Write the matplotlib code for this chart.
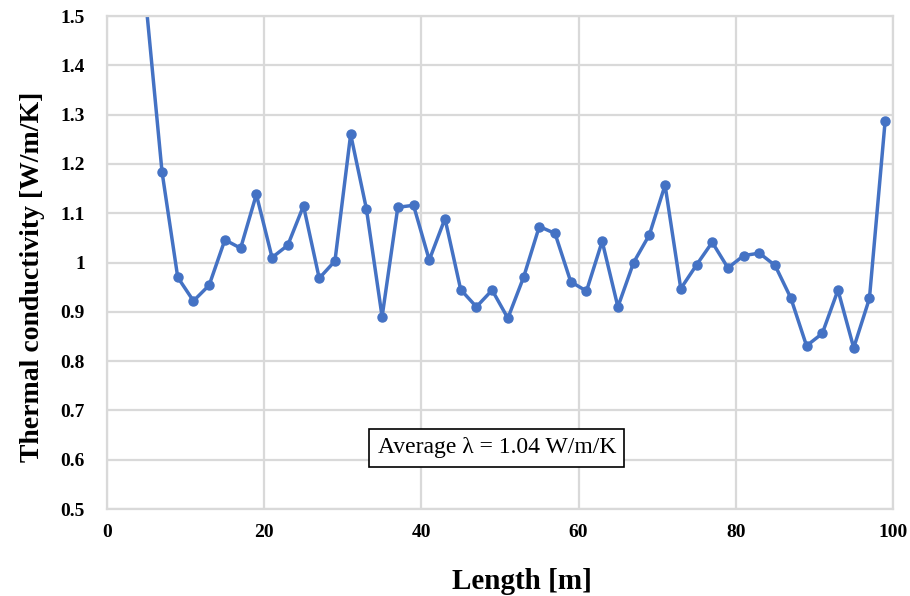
import matplotlib.pyplot as plt
import numpy as np

# measurement positions along the cable [m] and conductivity [W/m/K]
length = [3, 5, 7, 9, 11, 13, 15, 17, 19, 21, 23, 25, 27, 29, 31, 33, 35, 37, 39,
          41, 43, 45, 47, 49, 51, 53, 55, 57, 59, 61, 63, 65, 67, 69, 71, 73, 75,
          77, 79, 81, 83, 85, 87, 89, 91, 93, 95, 97, 99]
conductivity = [2.50, 1.52, 1.184, 0.970, 0.922, 0.954, 1.046, 1.029, 1.138, 1.010,
                1.035, 1.115, 0.968, 1.003, 1.260, 1.109, 0.890, 1.112, 1.116, 1.005,
                1.089, 0.945, 0.910, 0.944, 0.887, 0.970, 1.073, 1.059, 0.961, 0.942,
                1.043, 0.910, 1.000, 1.056, 1.157, 0.947, 0.995, 1.041, 0.989, 1.014,
                1.019, 0.994, 0.928, 0.831, 0.856, 0.944, 0.827, 0.927, 1.287]
avg_text = "Average \u03bb = 1.04 W/m/K"

plt.rcParams['font.family'] = ['Liberation Serif', 'DejaVu Serif']

fig = plt.figure(figsize=(9.1, 5.96), dpi=100)
ax = fig.add_axes([107/910, 1 - 509/596, (893-107)/910, (509-16)/596])

ax.plot(length, conductivity, color='#4472C4', linewidth=2.5,
        marker='o', markersize=6.5)

ax.set_xlim(0, 100)
ax.set_ylim(0.5, 1.5)
ax.set_xticks(np.arange(0, 101, 20))
ax.set_yticks(np.arange(0.5, 1.51, 0.1))
ax.set_yticklabels(['0.5', '0.6', '0.7', '0.8', '0.9', '1', '1.1', '1.2', '1.3', '1.4', '1.5'])
ax.grid(True, color='#d9d9d9', linewidth=1.6)
ax.set_axisbelow(True)
for s in ax.spines.values():
    s.set_color('#d9d9d9')
    s.set_linewidth(1.6)
ax.tick_params(length=0, labelsize=14)
ax.tick_params(axis='y', pad=16)
ax.tick_params(axis='x', pad=11)
for lbl in ax.get_xticklabels() + ax.get_yticklabels():
    lbl.set_fontweight('bold')

ax.set_xlabel("Length [m]", fontsize=21, fontweight='bold')
ax.xaxis.set_label_coords(0.528, -0.12)
ax.set_ylabel("Thermal conductivity [W/m/K]", fontsize=20, fontweight='bold')
ax.yaxis.set_label_coords(-0.079, 0.47)

ax.text(49.6, 0.624, avg_text, fontsize=17, ha='center', va='center',
        bbox=dict(boxstyle='square,pad=0.35', facecolor='white',
                  edgecolor='black', linewidth=1.2))

fig.savefig('out.png', dpi=100)
